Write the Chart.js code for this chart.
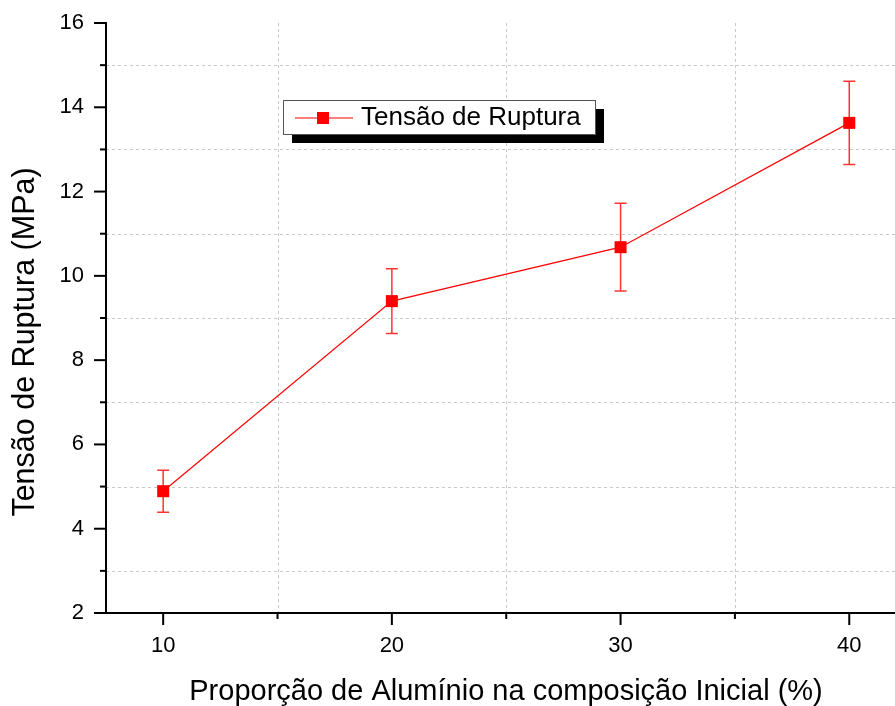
<!DOCTYPE html>
<html>
<head>
<meta charset="utf-8">
<script src="https://cdn.jsdelivr.net/npm/chart.js@4/dist/chart.umd.min.js"></script>
<style>
    html, body { margin: 0; padding: 0; background: #fff; overflow: hidden; }
    #wrap { width: 895px; height: 706px; position: relative; }
</style>
</head>
<body>
<div id="wrap"><canvas id="chart_tensao"></canvas></div>
<script>
// dados
const proporcao = [10, 20, 30, 40];
const tensao = [4.89, 9.40, 10.68, 13.63];
const erro = [0.50, 0.77, 1.04, 0.99];
const serieLabel = 'Tensão de Ruptura';
const tituloX = 'Proporção de Alumínio na composição Inicial (%)';
const tituloY = 'Tensão de Ruptura (MPa)';

// ticks
const xMajor = [10, 20, 30, 40];
const xMinor = [15, 25, 35];
const yMajor = [2, 4, 6, 8, 10, 12, 14, 16];
const yMinor = [3, 5, 7, 9, 11, 13, 15];

const fonte = "'Liberation Sans', Arial, sans-serif";
const vermelho = '#ff0000';

const eixosPlugin = {
    id: 'eixosOrigin',
    beforeDatasetsDraw(chart) {
        const {ctx, chartArea: a, scales: {x, y}} = chart;
        ctx.save();
        // grade pontilhada nos ticks menores
        ctx.strokeStyle = '#c8c8c8';
        ctx.lineWidth = 1;
        ctx.setLineDash([3, 3]);
        for (const v of xMinor) {
            const px = Math.round(x.getPixelForValue(v)) + 0.5;
            ctx.beginPath(); ctx.moveTo(px, a.top); ctx.lineTo(px, a.bottom); ctx.stroke();
        }
        for (const v of yMinor) {
            const py = Math.round(y.getPixelForValue(v)) + 0.5;
            ctx.beginPath(); ctx.moveTo(a.left, py); ctx.lineTo(a.right, py); ctx.stroke();
        }
        ctx.setLineDash([]);

        // barras de erro
        ctx.strokeStyle = 'rgba(255,0,0,0.8)';
        ctx.lineWidth = 1.5;
        for (let i = 0; i < proporcao.length; i++) {
            const px = x.getPixelForValue(proporcao[i]);
            const pTop = y.getPixelForValue(tensao[i] + erro[i]);
            const pBot = y.getPixelForValue(tensao[i] - erro[i]);
            ctx.beginPath();
            ctx.moveTo(px, pTop); ctx.lineTo(px, pBot);
            ctx.moveTo(px - 6, pTop); ctx.lineTo(px + 6, pTop);
            ctx.moveTo(px - 6, pBot); ctx.lineTo(px + 6, pBot);
            ctx.stroke();
        }
        ctx.restore();
    },
    afterDraw(chart) {
        const {ctx, chartArea: a, scales: {x, y}} = chart;
        ctx.save();
        // eixos
        ctx.strokeStyle = '#000';
        ctx.lineWidth = 2;
        ctx.beginPath();
        ctx.moveTo(a.left, a.top - 1); ctx.lineTo(a.left, a.bottom);
        ctx.lineTo(a.right, a.bottom);
        ctx.stroke();
        for (const v of xMajor) {
            const px = x.getPixelForValue(v);
            ctx.beginPath(); ctx.moveTo(px, a.bottom); ctx.lineTo(px, a.bottom + 12); ctx.stroke();
        }
        for (const v of xMinor) {
            const px = x.getPixelForValue(v);
            ctx.beginPath(); ctx.moveTo(px, a.bottom); ctx.lineTo(px, a.bottom + 6); ctx.stroke();
        }
        for (const v of yMajor) {
            const py = y.getPixelForValue(v);
            ctx.beginPath(); ctx.moveTo(a.left, py); ctx.lineTo(a.left - 12, py); ctx.stroke();
        }
        for (const v of yMinor) {
            const py = y.getPixelForValue(v);
            ctx.beginPath(); ctx.moveTo(a.left, py); ctx.lineTo(a.left - 6, py); ctx.stroke();
        }

        // titulos dos eixos
        ctx.fillStyle = '#000';
        ctx.textAlign = 'center';
        ctx.textBaseline = 'alphabetic';
        ctx.font = '29px ' + fonte;
        ctx.fillText(tituloX, 506, 700);
        ctx.save();
        ctx.translate(34, 342);
        ctx.rotate(-Math.PI / 2);
        ctx.font = '30.5px ' + fonte;
        ctx.fillText(tituloY, 0, 0);
        ctx.restore();

        // legenda com sombra
        const lx = 283, ly = 100, lw = 312, lh = 34;
        ctx.fillStyle = '#000';
        ctx.fillRect(lx + 9, ly + 9, lw, lh);
        ctx.fillStyle = '#fff';
        ctx.fillRect(lx, ly, lw, lh);
        ctx.strokeStyle = '#555';
        ctx.lineWidth = 1;
        ctx.strokeRect(lx + 0.5, ly + 0.5, lw, lh);
        ctx.strokeStyle = vermelho;
        ctx.lineWidth = 1.2;
        ctx.beginPath(); ctx.moveTo(295, ly + 18); ctx.lineTo(353, ly + 18); ctx.stroke();
        ctx.fillStyle = vermelho;
        ctx.fillRect(317, ly + 12, 12, 12);
        ctx.fillStyle = '#000';
        ctx.font = '26px ' + fonte;
        ctx.textAlign = 'left';
        ctx.textBaseline = 'middle';
        ctx.fillText(chart.data.datasets[0].label, 361, ly + 18);
        ctx.restore();
    }
};

const data = {
    datasets: [{
        label: serieLabel,
        data: proporcao.map((v, i) => ({x: v, y: tensao[i]})),
        borderColor: vermelho,
        backgroundColor: vermelho,
        borderWidth: 1.2,
        pointStyle: 'rect',
        pointRadius: 8.5,
        pointBorderWidth: 0,
        pointBackgroundColor: vermelho,
        tension: 0
    }]
};

const config = {
    type: 'line',
    data: data,
    options: {
        responsive: true,
        maintainAspectRatio: false,
        animation: false,
        layout: { autoPadding: false, padding: { top: 23, right: 0, left: 0, bottom: 0 } },
        plugins: { legend: { display: false }, tooltip: { enabled: false } },
        scales: {
            x: {
                type: 'linear',
                min: 7.5,
                max: 42,
                afterBuildTicks: (s) => { s.ticks = xMajor.map(v => ({value: v})); },
                afterFit: (s) => { s.height = 93; s.paddingLeft = 0; s.paddingRight = 0; },
                grid: { display: false, drawTicks: false },
                border: { display: false },
                ticks: {
                    autoSkip: false,
                    maxRotation: 0,
                    padding: 20,
                    color: '#000',
                    font: { family: fonte, size: 22 }
                }
            },
            y: {
                min: 2,
                max: 16,
                afterBuildTicks: (s) => { s.ticks = yMajor.map(v => ({value: v})); },
                afterFit: (s) => { s.width = 106; s.paddingTop = 0; s.paddingBottom = 0; },
                grid: { display: false, drawTicks: false },
                border: { display: false },
                ticks: {
                    autoSkip: false,
                    padding: 22,
                    color: '#000',
                    font: { family: fonte, size: 22 }
                }
            }
        }
    },
    plugins: [eixosPlugin]
};

const myChart = new Chart(document.getElementById('chart_tensao'), config);
</script>
</body>
</html>
